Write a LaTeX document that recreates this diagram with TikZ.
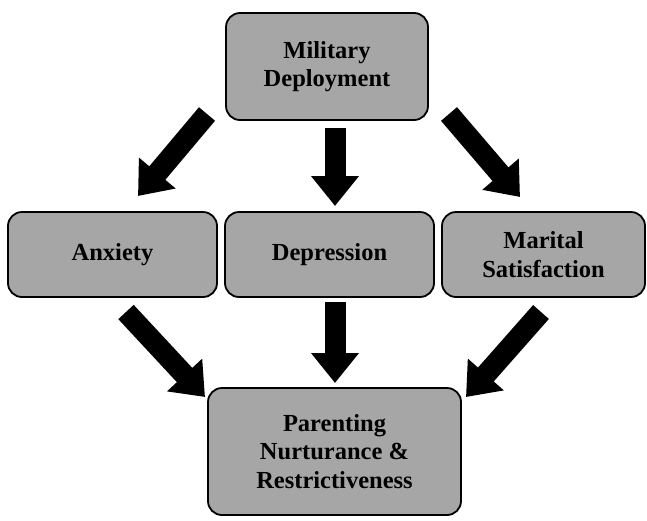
\documentclass[tikz,border=0pt]{standalone}
\usepackage{fontspec}
\setmainfont{Liberation Serif}
\usetikzlibrary{arrows.meta}
\begin{document}
\begin{tikzpicture}[x=1pt,y=-1pt,
  box/.style={draw=black,line width=1.8pt,fill={rgb,255:red,166;green,166;blue,166},rounded corners=14pt,
    align=center,font=\fontsize{24.5}{28.5}\selectfont\bfseries,inner sep=0pt},
  blockarrow/.style={line width=21pt,-{Triangle[length=30pt,width=46pt]}}]
\useasboundingbox (0,0) rectangle (647,520);
\node[box,minimum width=202pt,minimum height=107pt] (md) at (327,66.5) {Military\\Deployment};
\node[box,minimum width=209pt,minimum height=85pt] (anx) at (112.5,254.5) {Anxiety};
\node[box,minimum width=209pt,minimum height=85pt] (dep) at (329.5,254.5) {Depression};
\node[box,minimum width=203pt,minimum height=85pt] (mar) at (543.5,254.5) {Marital\\Satisfaction};
\node[box,minimum width=253pt,minimum height=127pt] (par) at (334.5,451.5) {Parenting\\Nurturance \&\\Restrictiveness};
\coordinate (a1s) at (207,114);
\coordinate (a1e) at (138,196);
\coordinate (a2s) at (335,128);
\coordinate (a2e) at (335,206);
\coordinate (a3s) at (449,114);
\coordinate (a3e) at (520,197);
\coordinate (b1s) at (126,312);
\coordinate (b1e) at (205,397);
\coordinate (b2s) at (335,302);
\coordinate (b2e) at (335,383);
\coordinate (b3s) at (541,312);
\coordinate (b3e) at (466,397);
\draw[blockarrow] (a1s) -- (a1e);
\draw[blockarrow] (a2s) -- (a2e);
\draw[blockarrow] (a3s) -- (a3e);
\draw[blockarrow] (b1s) -- (b1e);
\draw[blockarrow] (b2s) -- (b2e);
\draw[blockarrow] (b3s) -- (b3e);
\end{tikzpicture}
\end{document}
